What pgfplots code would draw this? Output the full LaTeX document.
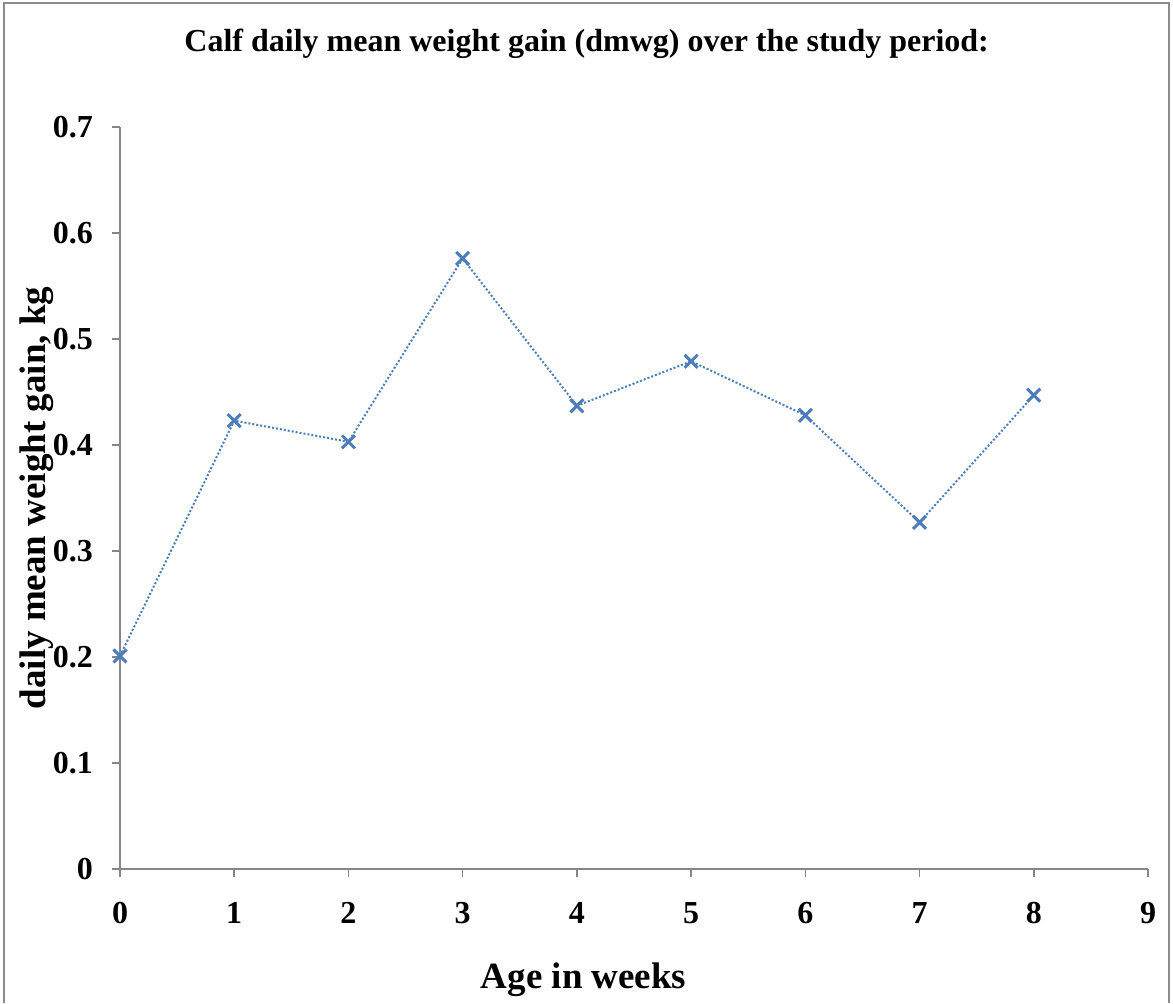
\documentclass[border=0pt]{standalone}
\usepackage{pgfplots}
\pgfplotsset{compat=1.18}
\usepackage{fontspec}
\setmainfont{Liberation Serif}
\definecolor{framegray}{HTML}{8C8C8C}
\definecolor{axisgray}{HTML}{868686}
\definecolor{serblue}{HTML}{4A7EBB}
\begin{document}
\begin{tikzpicture}
\useasboundingbox (0,0) rectangle (586.5pt,501.5pt);
\fill[white] (0,0) rectangle (586.5pt,501.5pt);
\draw[framegray, line width=1pt] (2pt,0pt) -- (2pt,500pt) -- (584.5pt,500pt) -- (584.5pt,0pt);
\begin{axis}[
  at={(60pt,67pt)}, anchor=south west,
  scale only axis, width=514pt, height=371pt,
  xmin=0, xmax=9, ymin=0, ymax=0.7,
  axis x line*=bottom, axis y line*=left,
  axis line style={axisgray, line width=0.8pt},
  tick style={axisgray, line width=0.8pt},
  tick align=outside, major tick length=4pt,
  xtick={0,1,2,3,4,5,6,7,8,9},
  xticklabels={0,1,2,3,4,5,6,7,8,9},
  ytick={0,0.1,0.2,0.3,0.4,0.5,0.6,0.7},
  yticklabels={0,0.1,0.2,0.3,0.4,0.5,0.6,0.7},
  ticklabel style={font=\bfseries\fontsize{16}{16}\selectfont, text=black},
  xticklabel style={yshift=-9pt},
  yticklabel style={xshift=-6pt},
  xlabel={Age in weeks},
  ylabel={daily mean weight gain, kg},
  label style={font=\bfseries\fontsize{18.5}{18.5}\selectfont},
  x label style={at={(axis description cs:0.451,-0.1496)}, anchor=center},
  y label style={at={(axis description cs:-0.0807,0.5)}, anchor=center, rotate=0},
  title={Calf daily mean weight gain (dmwg) over the study period:},
  title style={font=\bfseries\fontsize{16}{16}\selectfont, at={(axis description cs:0.454,1.096)}, anchor=center},
  clip=false,
]
\addplot[serblue, line width=1pt, dash pattern=on 1pt off 1pt,
  mark=x, mark size=4.6pt, mark options={solid, line width=1.5pt}]
  coordinates {
  (0,0.201) (1,0.423) (2,0.403) (3,0.576) (4,0.437)
  (5,0.479) (6,0.428) (7,0.327) (8,0.447)
  };
\end{axis}
\end{tikzpicture}
\end{document}
